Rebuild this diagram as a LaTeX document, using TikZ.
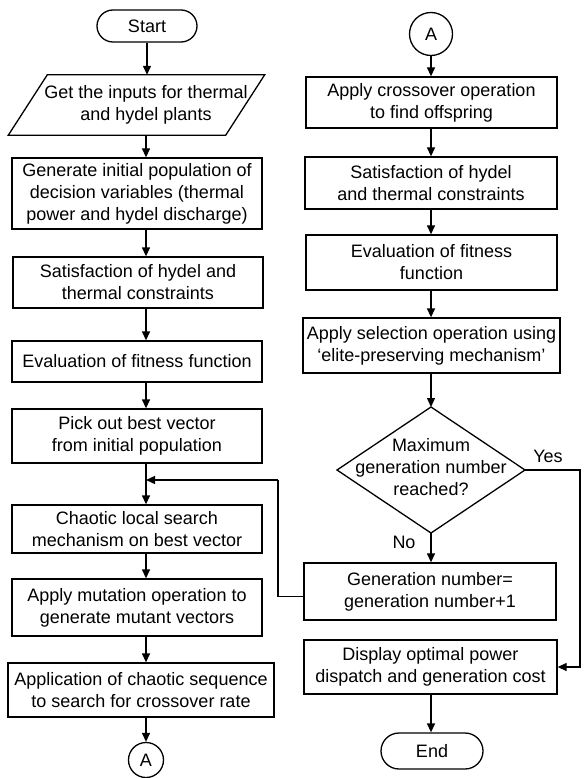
\documentclass[tikz,border=0pt]{standalone}
\usepackage{fontspec}
\setmainfont{Liberation Sans}
\usetikzlibrary{arrows.meta}
\begin{document}
\begin{tikzpicture}[x=1pt,y=-1pt,
  every node/.style={font=\fontsize{18}{22}\selectfont, inner sep=1pt, align=center},
  ln/.style={line width=1.3pt},
  pbox/.style={draw, ln},
  term/.style={draw, ln, rounded corners=16pt},
  conn/.style={draw, ln, circle, inner sep=0pt},
  arr/.style={ln, -{Triangle[length=9pt,width=8pt]}}
]
\useasboundingbox (0,0) rectangle (583,778);
\coordinate (cl) at (146,0);
\coordinate (cr) at (431,0);

% left column
\node[term, minimum width=100, minimum height=32] (start) at (147,26) {Start};
\node[minimum width=217, minimum height=60] (inp) at (146,105) {Get the inputs for thermal\\and hydel plants};
\draw[ln] ([xshift=10pt]inp.north west) -- ([xshift=10pt]inp.north east) -- ([xshift=-29pt]inp.south east) -- ([xshift=-29pt]inp.south west) -- cycle;
\node[pbox, minimum width=250, minimum height=71] (gen) at (137,193.5) {Generate initial population of\\decision variables (thermal\\power and hydel discharge)};
\node[pbox, minimum width=250, minimum height=51] (sat) at (138,282.5) {Satisfaction of hydel and\\thermal constraints};
\node[pbox, minimum width=250, minimum height=41] (eval) at (137,361.5) {Evaluation of fitness function};
\node[pbox, minimum width=250, minimum height=54] (pick) at (137,436) {Pick out best vector\\from initial population};
\node[pbox, minimum width=250, minimum height=48] (chaos) at (137,529) {Chaotic local search\\mechanism on best vector};
\node[pbox, minimum width=250, minimum height=57] (mut) at (137,607.5) {Apply mutation operation to\\generate mutant vectors};
\node[pbox, minimum width=266, minimum height=54] (appl) at (141,690) {Application of chaotic sequence\\to search for crossover rate};
\node[conn, minimum size=35] (A1) at (146,760) {A};

\draw[arr] (start.south) -- (start.south |- inp.north);
\draw[arr] (cl |- inp.south) -- (cl |- gen.north);
\draw[arr] (cl |- gen.south) -- (cl |- sat.north);
\draw[arr] (cl |- sat.south) -- (cl |- eval.north);
\draw[arr] (cl |- eval.south) -- (cl |- pick.north);
\draw[arr] (cl |- pick.south) -- (cl |- chaos.north);
\draw[arr] (cl |- chaos.south) -- (cl |- mut.north);
\draw[arr] (cl |- mut.south) -- (cl |- appl.north);
\draw[arr] (cl |- appl.south) -- (A1.north);

% right column
\node[conn, minimum size=43] (A2) at (431,34) {A};
\node[pbox, minimum width=251, minimum height=51] (cross) at (431.5,102.5) {Apply crossover operation\\to find offspring};
\node[pbox, minimum width=252, minimum height=52] (sat2) at (431,183) {Satisfaction of hydel\\and thermal constraints};
\node[pbox, minimum width=251, minimum height=55] (eval2) at (431.5,262.5) {Evaluation of fitness\\function};
\node[pbox, minimum width=257, minimum height=55] (sel) at (431.5,345.5) {Apply selection operation using\\‘elite-preserving mechanism’};
\coordinate (decN) at (431,407);
\coordinate (decE) at (525,470);
\coordinate (decS) at (431,533);
\coordinate (decW) at (337,470);
\draw[ln] (decN) -- (decE) -- (decS) -- (decW) -- cycle;
\node (dec) at (431,467) {Maximum\\generation number\\reached?};
\node[pbox, minimum width=252, minimum height=57] (gen2) at (430,591.5) {Generation number=\\generation number+1};
\node[pbox, minimum width=253, minimum height=54] (disp) at (430.5,667) {Display optimal power\\dispatch and generation cost};
\node[term, minimum width=102, minimum height=36, rounded corners=18pt] (end) at (432,751) {End};

\node (yes) at (548,456) {Yes};
\node (no) at (404,542) {No};

\draw[arr] (A2.south) -- (A2.south |- cross.north);
\draw[arr] (cr |- cross.south) -- (cr |- sat2.north);
\draw[arr] (cr |- sat2.south) -- (cr |- eval2.north);
\draw[arr] (cr |- eval2.south) -- (cr |- sel.north);
\draw[arr] (cr |- sel.south) -- (decN);
\draw[arr] (decS) -- (decS |- gen2.north);
\draw[arr] (cr |- disp.south) -- (cr |- end.north);

\coordinate (yesR) at (580,470);
\draw[arr] (decE) -- (yesR) |- (disp.east);

\coordinate (loopR) at (278,480);
\coordinate (loopT) at (146,480);
\draw[ln] ([yshift=-5pt]gen2.west) -| (loopR);
\draw[arr] (loopR) -- (loopT);
\end{tikzpicture}
\end{document}
